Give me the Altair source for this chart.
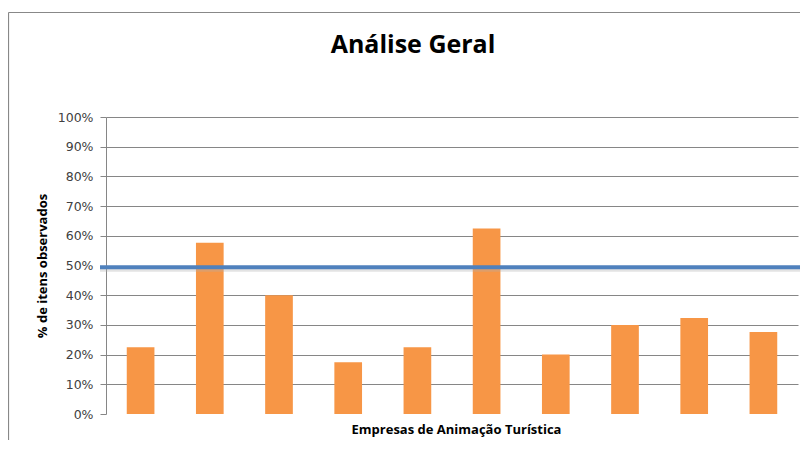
import altair as alt
import pandas as pd

empresas = ["Empresa 1", "Empresa 2", "Empresa 3", "Empresa 4", "Empresa 5",
            "Empresa 6", "Empresa 7", "Empresa 8", "Empresa 9", "Empresa 10"]
valores = [0.225, 0.577, 0.40, 0.174, 0.225, 0.625, 0.20, 0.30, 0.323, 0.276]
media = [0.494]
y_ticks = [0.0, 0.1, 0.2, 0.3, 0.4, 0.5, 0.6, 0.7, 0.8, 0.9, 1.0]
titulo = "Análise Geral"

df = pd.DataFrame({"empresa": empresas, "valor": valores})
df_media = pd.DataFrame({"valor": media})

GRAY = "#868686"

x_enc = alt.X(
    "empresa:N",
    sort=empresas,
    scale=alt.Scale(paddingInner=0.6, paddingOuter=0.3),
    axis=alt.Axis(
        labels=False, ticks=False, domain=False,
        title="Empresas de Animação Turística",
        titleFont="Open Sans", titleFontSize=13, titleFontWeight="bold",
        titleColor="#000000", titleBaseline="middle", titleY=15, titleX=350,
    ),
)
y_axis = alt.Axis(
    values=y_ticks, format=".0%", labelOverlap=False,
    title="% de itens observados",
    titleFont="Open Sans", titleFontSize=13, titleFontWeight="bold",
    titleColor="#000000", titleAngle=-90, titleBaseline="middle",
    titleAlign="center", titleX=-64, titleY=148.5,
    labelFont="DejaVu Sans", labelFontSize=12.5, labelColor="#404040",
    labelPadding=7, tickSize=6, tickColor=GRAY, domainColor=GRAY,
    gridColor=GRAY, gridWidth=1,
    gridOpacity={"condition": {"test": "datum.value === 0", "value": 0}, "value": 1},
)
y_scale = alt.Scale(domain=[0, 1], nice=False)


def y_enc():
    return alt.Y("valor:Q", scale=y_scale, axis=y_axis)


bars = alt.Chart(df).mark_bar(color="#F79646").encode(x=x_enc, y=y_enc())

shadow = alt.Chart(df_media).mark_rule(color="#b0b0b0", strokeWidth=3, opacity=0.35, yOffset=3).encode(
    y=y_enc(), x=alt.value(-6), x2=alt.value(694)
)
linha = alt.Chart(df_media).mark_rule(color="#4F81BD", strokeWidth=4).encode(
    y=y_enc(), x=alt.value(-6), x2=alt.value(694)
)

frame_top = alt.Chart(df_media).mark_rule(color="#888888", strokeWidth=1.2).encode(
    x=alt.value(-97.5), x2=alt.value(700), y=alt.value(-104.5)
)
frame_left = alt.Chart(df_media).mark_rule(color="#888888", strokeWidth=1.2).encode(
    x=alt.value(-97.5), y=alt.value(-104.5), y2=alt.value(330)
)

title_txt = alt.Chart(df_media).mark_text(
    text=titulo, font="Open Sans", fontSize=25, fontWeight="bold",
    color="#000000", align="center", baseline="alphabetic",
).encode(x=alt.value(307), y=alt.value(-64))

chart = alt.layer(bars, shadow, linha, frame_top, frame_left, title_txt).properties(
    width=692,
    height=297,
    autosize=alt.AutoSizeParams(type="none"),
    padding={"left": 98, "top": 109, "right": 2, "bottom": 26},
).configure_view(stroke=None)

chart.save("out.html", embed_options={"renderer": "svg", "actions": False})
